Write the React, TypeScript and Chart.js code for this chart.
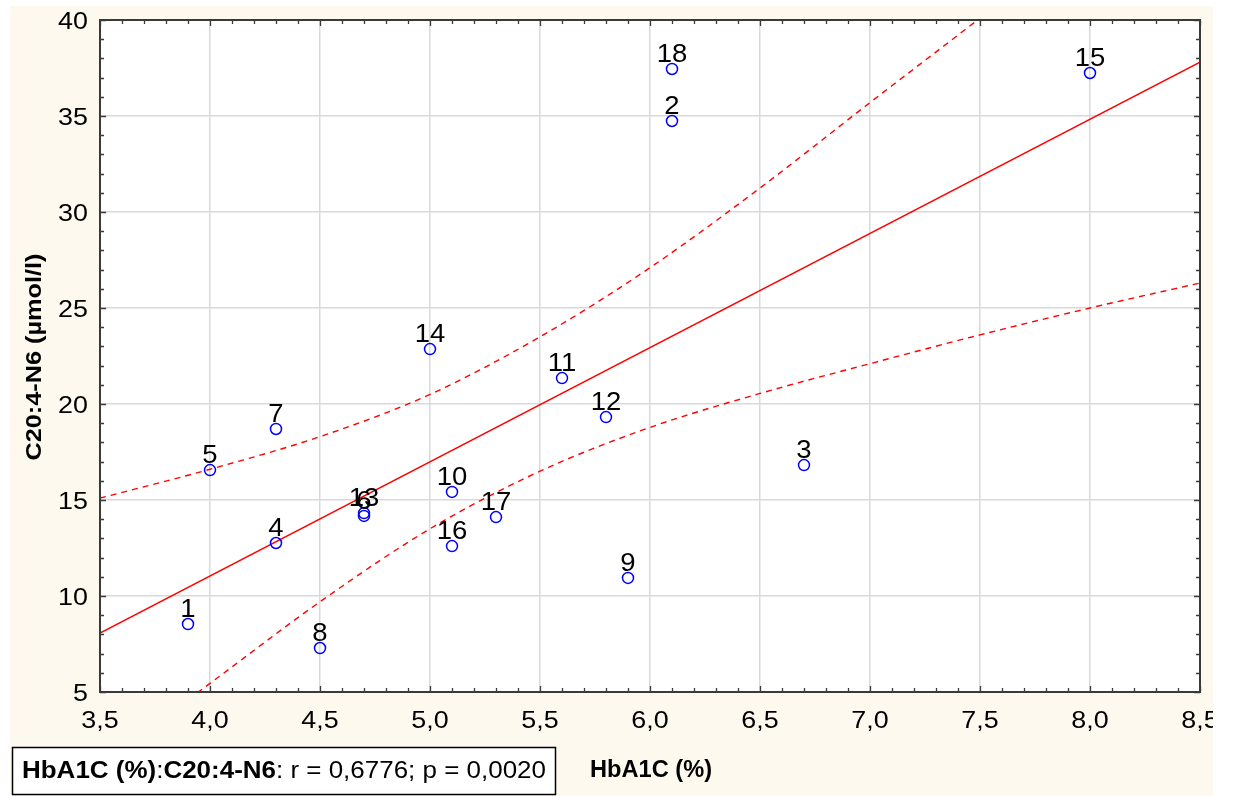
import React, { useEffect, useRef } from "react";
import { Chart, registerables } from "chart.js";

Chart.register(...registerables);

// Subject numbers, HbA1C (%) and C20:4-N6 (µmol/l) per subject
const ids = [1, 2, 3, 4, 5, 6, 7, 8, 9, 10, 11, 12, 13, 14, 15, 16, 17, 18];
const hba1c = [3.9, 6.1, 6.7, 4.3, 4.0, 4.7, 4.3, 4.5, 5.9, 5.1, 5.6, 5.8, 4.7, 5.0, 8.0, 5.1, 5.3, 6.1];
const c204 = [8.54, 34.74, 16.82, 12.76, 16.56, 14.17, 18.7, 7.29, 10.94, 15.42, 21.35, 19.32, 14.32, 22.86, 37.24, 12.6, 14.11, 37.45];

// Regression line end points
const fitX = [3.5, 8.5];
const fitY = [8.07, 37.8];

// 95% confidence band
const bandX = [3.5, 4.0, 4.5, 5.0, 5.5, 6.0, 6.5, 7.0, 7.5, 8.0, 8.5];
const bandUpper = [15.1, 16.6, 18.3, 20.5, 23.5, 27.1, 31.25, 35.7, 40.1, 44.6, 49.2];
const bandLower = [1.2, 5.45, 9.7, 13.5, 16.5, 18.78, 20.55, 22.1, 23.6, 25.0, 26.3];

// Axis ticks
const xTicks = [3.5, 4.0, 4.5, 5.0, 5.5, 6.0, 6.5, 7.0, 7.5, 8.0, 8.5];
const xTickLabels = ["3,5", "4,0", "4,5", "5,0", "5,5", "6,0", "6,5", "7,0", "7,5", "8,0", "8,5"];
const yTicks = [5, 10, 15, 20, 25, 30, 35, 40];
const yTickLabels = ["5", "10", "15", "20", "25", "30", "35", "40"];

const xTitle = "HbA1C (%)";
const yTitle = "C20:4-N6 (µmol/l)";
const statParts = [
  { t: "HbA1C (%)", bold: true },
  { t: ":", bold: false },
  { t: "C20:4-N6", bold: true },
  { t: ": r = 0,6776; p = 0,0020", bold: false },
];

const W = 1233;
const H = 796;
const CREAM = "#fdf9ef";
const REG = '"Liberation Sans", Arial, sans-serif';
const NARROW = '"Liberation Sans Narrow", "Liberation Sans", Arial, sans-serif';

function stretchText(
  ctx: CanvasRenderingContext2D,
  text: string,
  x: number,
  y: number,
  font: string,
  align: CanvasTextAlign,
  sx: number
) {
  ctx.save();
  ctx.font = font;
  ctx.textAlign = align;
  ctx.textBaseline = "alphabetic";
  ctx.translate(x, y);
  ctx.scale(sx, 1);
  ctx.fillText(text, 0, 0);
  ctx.restore();
}

const decorPlugin = {
  id: "decor",
  beforeDraw(chart: any) {
    const ctx = chart.ctx as CanvasRenderingContext2D;
    const a = chart.chartArea;
    ctx.save();
    ctx.fillStyle = "#ffffff";
    ctx.fillRect(0, 0, W, H);
    ctx.fillStyle = CREAM;
    ctx.fillRect(10, 6, 1203, H - 6);
    ctx.fillStyle = "#ffffff";
    ctx.fillRect(a.left, a.top, a.right - a.left, a.bottom - a.top);
    ctx.restore();
  },
  afterDatasetsDraw(chart: any) {
    const ctx = chart.ctx as CanvasRenderingContext2D;
    const xs = chart.scales.x;
    const ys = chart.scales.y;
    // subject numbers above each point
    ctx.save();
    ctx.fillStyle = "#000000";
    for (let i = 0; i < ids.length; i++) {
      const px = xs.getPixelForValue(hba1c[i]);
      const py = ys.getPixelForValue(c204[i]);
      stretchText(ctx, String(ids[i]), px, py - 7, `25px ${REG}`, "center", 1.1);
    }
    ctx.restore();
  },
  afterDraw(chart: any) {
    const ctx = chart.ctx as CanvasRenderingContext2D;
    const a = chart.chartArea;
    const xs = chart.scales.x;
    const ys = chart.scales.y;
    ctx.save();
    // frame
    ctx.strokeStyle = "#3a3a3a";
    ctx.lineWidth = 2;
    ctx.strokeRect(a.left, a.top, a.right - a.left, a.bottom - a.top);
    // inward ticks on all four sides
    ctx.lineWidth = 1.3;
    ctx.beginPath();
    for (let k = 0; k <= 50; k++) {
      const v = 3.5 + k * 0.1;
      const px = Math.round(xs.getPixelForValue(v)) + 0.5;
      const len = k % 5 === 0 ? 6 : 4;
      ctx.moveTo(px, a.top);
      ctx.lineTo(px, a.top + len);
      ctx.moveTo(px, a.bottom);
      ctx.lineTo(px, a.bottom - len);
    }
    for (let v = 5; v <= 40; v++) {
      const py = Math.round(ys.getPixelForValue(v)) + 0.5;
      const len = v % 5 === 0 ? 6 : 4;
      ctx.moveTo(a.left, py);
      ctx.lineTo(a.left + len, py);
      ctx.moveTo(a.right, py);
      ctx.lineTo(a.right - len, py);
    }
    ctx.stroke();

    // tick labels
    ctx.fillStyle = "#000000";
    for (let i = 0; i < yTicks.length; i++) {
      const py = ys.getPixelForValue(yTicks[i]);
      stretchText(ctx, yTickLabels[i], a.left - 12, py + 8.5, `24px ${REG}`, "right", 1.12);
    }
    ctx.save();
    ctx.beginPath();
    ctx.rect(0, 0, 1213, H);
    ctx.clip();
    for (let i = 0; i < xTicks.length; i++) {
      const px = xs.getPixelForValue(xTicks[i]);
      stretchText(ctx, xTickLabels[i], px, a.bottom + 36, `24px ${REG}`, "center", 1.12);
    }
    ctx.restore();

    // axis titles
    ctx.font = `bold 23px ${NARROW}`;
    const xw = ctx.measureText(xTitle).width;
    stretchText(ctx, xTitle, 590, 777, `bold 23px ${NARROW}`, "left", 122 / xw);

    ctx.save();
    ctx.font = `bold 22px ${NARROW}`;
    const yw = ctx.measureText(yTitle).width;
    ctx.translate(41, 357);
    ctx.rotate(-Math.PI / 2);
    stretchText(ctx, yTitle, 0, 0, `bold 22px ${NARROW}`, "center", 207 / yw);
    ctx.restore();

    // statistics box
    ctx.fillStyle = "#ffffff";
    ctx.fillRect(12, 747, 544, 48);
    ctx.strokeStyle = "#000000";
    ctx.lineWidth = 1.5;
    ctx.strokeRect(12.5, 747.5, 543, 47);
    ctx.fillStyle = "#000000";
    let total = 0;
    const widths: number[] = [];
    for (const p of statParts) {
      ctx.font = `${p.bold ? "bold " : ""}23px ${NARROW}`;
      const w = ctx.measureText(p.t).width;
      widths.push(w);
      total += w;
    }
    const sx = 524 / total;
    let cx = 22;
    statParts.forEach((p, i) => {
      stretchText(ctx, p.t, cx, 778, `${p.bold ? "bold " : ""}23px ${NARROW}`, "left", sx);
      cx += widths[i] * sx;
    });
    ctx.restore();
  },
};

export default function App() {
  const ref = useRef<HTMLCanvasElement | null>(null);

  useEffect(() => {
    if (!ref.current) return;
    const points = hba1c.map((x, i) => ({ x, y: c204[i] }));
    const fit = fitX.map((x, i) => ({ x, y: fitY[i] }));
    const upper = bandX.map((x, i) => ({ x, y: bandUpper[i] }));
    const lower = bandX.map((x, i) => ({ x, y: bandLower[i] }));

    const chart = new Chart(ref.current, {
      type: "scatter",
      data: {
        datasets: [
          {
            data: fit,
            showLine: true,
            borderColor: "#ff0000",
            borderWidth: 1.4,
            pointRadius: 0,
            clip: 0,
            order: 3,
          },
          {
            data: upper,
            showLine: true,
            borderColor: "#ff0000",
            borderWidth: 1.4,
            borderDash: [6, 5],
            pointRadius: 0,
            cubicInterpolationMode: "monotone",
            clip: 0,
            order: 2,
          },
          {
            data: lower,
            showLine: true,
            borderColor: "#ff0000",
            borderWidth: 1.4,
            borderDash: [6, 5],
            pointRadius: 0,
            cubicInterpolationMode: "monotone",
            clip: 0,
            order: 1,
          },
          {
            data: points,
            showLine: false,
            pointStyle: "circle",
            pointRadius: 5.5,
            pointBorderWidth: 1.5,
            borderColor: "#0000ff",
            backgroundColor: "rgba(0,0,0,0)",
            order: 0,
          },
        ],
      } as any,
      options: {
        animation: false,
        responsive: false,
        devicePixelRatio: 1,
        layout: { padding: { left: 100, top: 20, right: 33, bottom: 104 } },
        plugins: { legend: { display: false }, tooltip: { enabled: false } },
        scales: {
          x: {
            type: "linear",
            min: 3.5,
            max: 8.5,
            ticks: { display: false, stepSize: 0.5 },
            grid: { color: "#d9d9d9", lineWidth: 1.5, drawTicks: false },
            border: { display: false },
          },
          y: {
            type: "linear",
            min: 5,
            max: 40,
            ticks: { display: false, stepSize: 5 },
            grid: { color: "#d9d9d9", lineWidth: 1.5, drawTicks: false },
            border: { display: false },
          },
        },
      } as any,
      plugins: [decorPlugin],
    });
    return () => chart.destroy();
  }, []);

  return (
    <div style={{ position: "fixed", left: 0, top: 0, width: W, height: H }}>
      <canvas ref={ref} width={W} height={H} style={{ width: W, height: H, display: "block" }} />
    </div>
  );
}
